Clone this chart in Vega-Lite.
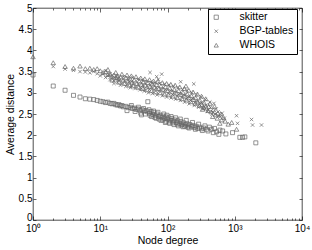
{
  "$schema": "https://vega.github.io/schema/vega-lite/v6.json",
  "width": 269,
  "height": 212,
  "autosize": {"type": "none"},
  "padding": {"left": 33, "top": 8, "right": 10, "bottom": 30},
  "config": {
    "view": {"stroke": "black", "strokeWidth": 0.7},
    "font": "Liberation Sans",
    "axis": {"domain": false, "grid": false, "labelFont": "Liberation Sans", "titleFont": "Liberation Sans", "labelColor": "black", "titleColor": "black", "tickColor": "black", "tickWidth": 0.6, "labelFontSize": 10, "titleFontSize": 10.5, "titleFontWeight": "normal"}
  },
  "datasets": {
    "pts": [
      {"src": "skitter", "deg": 1, "dist": 3.42},
      {"src": "skitter", "deg": 2, "dist": 3.16},
      {"src": "skitter", "deg": 3, "dist": 3.06},
      {"src": "skitter", "deg": 4, "dist": 2.94},
      {"src": "skitter", "deg": 5, "dist": 2.90},
      {"src": "skitter", "deg": 6, "dist": 2.86},
      {"src": "skitter", "deg": 7, "dist": 2.85},
      {"src": "skitter", "deg": 8, "dist": 2.84},
      {"src": "skitter", "deg": 9, "dist": 2.82},
      {"src": "skitter", "deg": 10, "dist": 2.80},
      {"src": "skitter", "deg": 11, "dist": 2.79},
      {"src": "skitter", "deg": 12, "dist": 2.77},
      {"src": "skitter", "deg": 13, "dist": 2.78},
      {"src": "skitter", "deg": 14, "dist": 2.75},
      {"src": "skitter", "deg": 15, "dist": 2.74},
      {"src": "skitter", "deg": 16, "dist": 2.75},
      {"src": "skitter", "deg": 17, "dist": 2.72},
      {"src": "skitter", "deg": 18, "dist": 2.71},
      {"src": "skitter", "deg": 19, "dist": 2.72},
      {"src": "skitter", "deg": 20, "dist": 2.69},
      {"src": "skitter", "deg": 21, "dist": 2.70},
      {"src": "skitter", "deg": 22, "dist": 2.67},
      {"src": "skitter", "deg": 24, "dist": 2.68},
      {"src": "skitter", "deg": 25, "dist": 2.58},
      {"src": "skitter", "deg": 26, "dist": 2.65},
      {"src": "skitter", "deg": 28, "dist": 2.66},
      {"src": "skitter", "deg": 29, "dist": 2.70},
      {"src": "skitter", "deg": 30, "dist": 2.63},
      {"src": "skitter", "deg": 32, "dist": 2.64},
      {"src": "skitter", "deg": 33, "dist": 2.56},
      {"src": "skitter", "deg": 34, "dist": 2.61},
      {"src": "skitter", "deg": 36, "dist": 2.62},
      {"src": "skitter", "deg": 37, "dist": 2.66},
      {"src": "skitter", "deg": 39, "dist": 2.59},
      {"src": "skitter", "deg": 40, "dist": 2.52},
      {"src": "skitter", "deg": 41, "dist": 2.48},
      {"src": "skitter", "deg": 42, "dist": 2.60},
      {"src": "skitter", "deg": 44, "dist": 2.63},
      {"src": "skitter", "deg": 45, "dist": 2.57},
      {"src": "skitter", "deg": 47, "dist": 2.50},
      {"src": "skitter", "deg": 48, "dist": 2.58},
      {"src": "skitter", "deg": 51, "dist": 2.79},
      {"src": "skitter", "deg": 51, "dist": 2.55},
      {"src": "skitter", "deg": 53, "dist": 2.60},
      {"src": "skitter", "deg": 54, "dist": 2.52},
      {"src": "skitter", "deg": 55, "dist": 2.47},
      {"src": "skitter", "deg": 57, "dist": 2.56},
      {"src": "skitter", "deg": 58, "dist": 2.44},
      {"src": "skitter", "deg": 60, "dist": 2.49},
      {"src": "skitter", "deg": 62, "dist": 2.57},
      {"src": "skitter", "deg": 63, "dist": 2.53},
      {"src": "skitter", "deg": 65, "dist": 2.42},
      {"src": "skitter", "deg": 66, "dist": 2.46},
      {"src": "skitter", "deg": 68, "dist": 2.40},
      {"src": "skitter", "deg": 70, "dist": 2.50},
      {"src": "skitter", "deg": 72, "dist": 2.54},
      {"src": "skitter", "deg": 74, "dist": 2.44},
      {"src": "skitter", "deg": 75, "dist": 2.38},
      {"src": "skitter", "deg": 78, "dist": 2.47},
      {"src": "skitter", "deg": 80, "dist": 2.35},
      {"src": "skitter", "deg": 82, "dist": 2.42},
      {"src": "skitter", "deg": 85, "dist": 2.36},
      {"src": "skitter", "deg": 86, "dist": 2.45},
      {"src": "skitter", "deg": 88, "dist": 2.50},
      {"src": "skitter", "deg": 90, "dist": 2.40},
      {"src": "skitter", "deg": 93, "dist": 2.30},
      {"src": "skitter", "deg": 95, "dist": 2.43},
      {"src": "skitter", "deg": 95, "dist": 2.33},
      {"src": "skitter", "deg": 98, "dist": 2.47},
      {"src": "skitter", "deg": 100, "dist": 2.38},
      {"src": "skitter", "deg": 105, "dist": 2.41},
      {"src": "skitter", "deg": 105, "dist": 2.31},
      {"src": "skitter", "deg": 108, "dist": 2.28},
      {"src": "skitter", "deg": 110, "dist": 2.35},
      {"src": "skitter", "deg": 113, "dist": 2.44},
      {"src": "skitter", "deg": 116, "dist": 2.39},
      {"src": "skitter", "deg": 120, "dist": 2.29},
      {"src": "skitter", "deg": 122, "dist": 2.33},
      {"src": "skitter", "deg": 125, "dist": 2.25},
      {"src": "skitter", "deg": 128, "dist": 2.36},
      {"src": "skitter", "deg": 132, "dist": 2.41},
      {"src": "skitter", "deg": 135, "dist": 2.30},
      {"src": "skitter", "deg": 140, "dist": 2.26},
      {"src": "skitter", "deg": 142, "dist": 2.34},
      {"src": "skitter", "deg": 145, "dist": 2.22},
      {"src": "skitter", "deg": 150, "dist": 2.28},
      {"src": "skitter", "deg": 155, "dist": 2.38},
      {"src": "skitter", "deg": 158, "dist": 2.32},
      {"src": "skitter", "deg": 160, "dist": 2.24},
      {"src": "skitter", "deg": 166, "dist": 2.26},
      {"src": "skitter", "deg": 170, "dist": 2.20},
      {"src": "skitter", "deg": 175, "dist": 2.29},
      {"src": "skitter", "deg": 180, "dist": 2.21},
      {"src": "skitter", "deg": 185, "dist": 2.24},
      {"src": "skitter", "deg": 190, "dist": 2.35},
      {"src": "skitter", "deg": 195, "dist": 2.27},
      {"src": "skitter", "deg": 200, "dist": 2.19},
      {"src": "skitter", "deg": 205, "dist": 2.22},
      {"src": "skitter", "deg": 210, "dist": 2.17},
      {"src": "skitter", "deg": 216, "dist": 2.25},
      {"src": "skitter", "deg": 228, "dist": 2.20},
      {"src": "skitter", "deg": 235, "dist": 2.30},
      {"src": "skitter", "deg": 240, "dist": 2.23},
      {"src": "skitter", "deg": 253, "dist": 2.18},
      {"src": "skitter", "deg": 260, "dist": 2.14},
      {"src": "skitter", "deg": 267, "dist": 2.21},
      {"src": "skitter", "deg": 282, "dist": 2.16},
      {"src": "skitter", "deg": 290, "dist": 2.26},
      {"src": "skitter", "deg": 300, "dist": 2.19},
      {"src": "skitter", "deg": 320, "dist": 2.15},
      {"src": "skitter", "deg": 330, "dist": 2.11},
      {"src": "skitter", "deg": 345, "dist": 2.17},
      {"src": "skitter", "deg": 360, "dist": 2.22},
      {"src": "skitter", "deg": 381, "dist": 2.14},
      {"src": "skitter", "deg": 400, "dist": 2.10},
      {"src": "skitter", "deg": 420, "dist": 2.19},
      {"src": "skitter", "deg": 452, "dist": 2.14},
      {"src": "skitter", "deg": 480, "dist": 2.06},
      {"src": "skitter", "deg": 500, "dist": 2.16},
      {"src": "skitter", "deg": 537, "dist": 2.08},
      {"src": "skitter", "deg": 580, "dist": 2.02},
      {"src": "skitter", "deg": 600, "dist": 2.12},
      {"src": "skitter", "deg": 660, "dist": 2.10},
      {"src": "skitter", "deg": 738, "dist": 2.03},
      {"src": "skitter", "deg": 927, "dist": 2.06},
      {"src": "skitter", "deg": 1190, "dist": 1.95},
      {"src": "skitter", "deg": 1306, "dist": 1.95},
      {"src": "skitter", "deg": 1413, "dist": 1.96},
      {"src": "skitter", "deg": 2057, "dist": 1.82},
      {"src": "BGP-tables", "deg": 2, "dist": 3.62},
      {"src": "BGP-tables", "deg": 3, "dist": 3.56},
      {"src": "BGP-tables", "deg": 4, "dist": 3.53},
      {"src": "BGP-tables", "deg": 5, "dist": 3.50},
      {"src": "BGP-tables", "deg": 6, "dist": 3.49},
      {"src": "BGP-tables", "deg": 7, "dist": 3.47},
      {"src": "BGP-tables", "deg": 8, "dist": 3.50},
      {"src": "BGP-tables", "deg": 9, "dist": 3.45},
      {"src": "BGP-tables", "deg": 10, "dist": 3.40},
      {"src": "BGP-tables", "deg": 11, "dist": 3.44},
      {"src": "BGP-tables", "deg": 12, "dist": 3.36},
      {"src": "BGP-tables", "deg": 12, "dist": 3.52},
      {"src": "BGP-tables", "deg": 13, "dist": 3.40},
      {"src": "BGP-tables", "deg": 14, "dist": 3.31},
      {"src": "BGP-tables", "deg": 14, "dist": 3.45},
      {"src": "BGP-tables", "deg": 15, "dist": 3.36},
      {"src": "BGP-tables", "deg": 16, "dist": 3.28},
      {"src": "BGP-tables", "deg": 16, "dist": 3.22},
      {"src": "BGP-tables", "deg": 17, "dist": 3.33},
      {"src": "BGP-tables", "deg": 18, "dist": 3.25},
      {"src": "BGP-tables", "deg": 18, "dist": 3.40},
      {"src": "BGP-tables", "deg": 19, "dist": 3.30},
      {"src": "BGP-tables", "deg": 20, "dist": 3.18},
      {"src": "BGP-tables", "deg": 21, "dist": 3.22},
      {"src": "BGP-tables", "deg": 22, "dist": 3.38},
      {"src": "BGP-tables", "deg": 23, "dist": 3.28},
      {"src": "BGP-tables", "deg": 24, "dist": 3.15},
      {"src": "BGP-tables", "deg": 25, "dist": 3.20},
      {"src": "BGP-tables", "deg": 26, "dist": 3.35},
      {"src": "BGP-tables", "deg": 27, "dist": 3.26},
      {"src": "BGP-tables", "deg": 28, "dist": 3.12},
      {"src": "BGP-tables", "deg": 29, "dist": 3.17},
      {"src": "BGP-tables", "deg": 30, "dist": 3.36},
      {"src": "BGP-tables", "deg": 31, "dist": 3.23},
      {"src": "BGP-tables", "deg": 33, "dist": 3.10},
      {"src": "BGP-tables", "deg": 34, "dist": 3.15},
      {"src": "BGP-tables", "deg": 36, "dist": 3.32},
      {"src": "BGP-tables", "deg": 37, "dist": 3.21},
      {"src": "BGP-tables", "deg": 39, "dist": 3.07},
      {"src": "BGP-tables", "deg": 40, "dist": 3.12},
      {"src": "BGP-tables", "deg": 42, "dist": 3.30},
      {"src": "BGP-tables", "deg": 43, "dist": 3.18},
      {"src": "BGP-tables", "deg": 45, "dist": 3.04},
      {"src": "BGP-tables", "deg": 46, "dist": 3.10},
      {"src": "BGP-tables", "deg": 48, "dist": 3.27},
      {"src": "BGP-tables", "deg": 50, "dist": 3.16},
      {"src": "BGP-tables", "deg": 52, "dist": 3.00},
      {"src": "BGP-tables", "deg": 54, "dist": 3.08},
      {"src": "BGP-tables", "deg": 55, "dist": 3.48},
      {"src": "BGP-tables", "deg": 56, "dist": 3.25},
      {"src": "BGP-tables", "deg": 58, "dist": 3.14},
      {"src": "BGP-tables", "deg": 60, "dist": 2.98},
      {"src": "BGP-tables", "deg": 61, "dist": 3.22},
      {"src": "BGP-tables", "deg": 63, "dist": 3.06},
      {"src": "BGP-tables", "deg": 65, "dist": 3.24},
      {"src": "BGP-tables", "deg": 68, "dist": 3.12},
      {"src": "BGP-tables", "deg": 69, "dist": 3.38},
      {"src": "BGP-tables", "deg": 70, "dist": 2.95},
      {"src": "BGP-tables", "deg": 73, "dist": 3.32},
      {"src": "BGP-tables", "deg": 74, "dist": 3.04},
      {"src": "BGP-tables", "deg": 76, "dist": 3.22},
      {"src": "BGP-tables", "deg": 80, "dist": 3.10},
      {"src": "BGP-tables", "deg": 82, "dist": 3.44},
      {"src": "BGP-tables", "deg": 84, "dist": 2.93},
      {"src": "BGP-tables", "deg": 87, "dist": 3.02},
      {"src": "BGP-tables", "deg": 90, "dist": 3.20},
      {"src": "BGP-tables", "deg": 94, "dist": 3.08},
      {"src": "BGP-tables", "deg": 97, "dist": 2.90},
      {"src": "BGP-tables", "deg": 102, "dist": 2.99},
      {"src": "BGP-tables", "deg": 105, "dist": 3.18},
      {"src": "BGP-tables", "deg": 110, "dist": 3.05},
      {"src": "BGP-tables", "deg": 113, "dist": 2.88},
      {"src": "BGP-tables", "deg": 119, "dist": 2.96},
      {"src": "BGP-tables", "deg": 122, "dist": 3.15},
      {"src": "BGP-tables", "deg": 128, "dist": 3.02},
      {"src": "BGP-tables", "deg": 132, "dist": 2.85},
      {"src": "BGP-tables", "deg": 138, "dist": 2.93},
      {"src": "BGP-tables", "deg": 143, "dist": 3.12},
      {"src": "BGP-tables", "deg": 150, "dist": 2.98},
      {"src": "BGP-tables", "deg": 155, "dist": 2.82},
      {"src": "BGP-tables", "deg": 157, "dist": 3.26},
      {"src": "BGP-tables", "deg": 162, "dist": 2.90},
      {"src": "BGP-tables", "deg": 168, "dist": 3.08},
      {"src": "BGP-tables", "deg": 175, "dist": 2.95},
      {"src": "BGP-tables", "deg": 180, "dist": 2.78},
      {"src": "BGP-tables", "deg": 189, "dist": 2.86},
      {"src": "BGP-tables", "deg": 195, "dist": 3.05},
      {"src": "BGP-tables", "deg": 204, "dist": 2.91},
      {"src": "BGP-tables", "deg": 210, "dist": 2.74},
      {"src": "BGP-tables", "deg": 220, "dist": 2.82},
      {"src": "BGP-tables", "deg": 230, "dist": 3.00},
      {"src": "BGP-tables", "deg": 237, "dist": 2.87},
      {"src": "BGP-tables", "deg": 246, "dist": 3.21},
      {"src": "BGP-tables", "deg": 250, "dist": 2.70},
      {"src": "BGP-tables", "deg": 256, "dist": 2.77},
      {"src": "BGP-tables", "deg": 270, "dist": 2.95},
      {"src": "BGP-tables", "deg": 276, "dist": 2.82},
      {"src": "BGP-tables", "deg": 290, "dist": 2.66},
      {"src": "BGP-tables", "deg": 298, "dist": 2.72},
      {"src": "BGP-tables", "deg": 315, "dist": 2.90},
      {"src": "BGP-tables", "deg": 322, "dist": 2.77},
      {"src": "BGP-tables", "deg": 340, "dist": 2.62},
      {"src": "BGP-tables", "deg": 348, "dist": 2.66},
      {"src": "BGP-tables", "deg": 365, "dist": 2.84},
      {"src": "BGP-tables", "deg": 375, "dist": 2.71},
      {"src": "BGP-tables", "deg": 395, "dist": 2.56},
      {"src": "BGP-tables", "deg": 405, "dist": 2.60},
      {"src": "BGP-tables", "deg": 425, "dist": 2.78},
      {"src": "BGP-tables", "deg": 437, "dist": 2.65},
      {"src": "BGP-tables", "deg": 460, "dist": 2.50},
      {"src": "BGP-tables", "deg": 472, "dist": 2.55},
      {"src": "BGP-tables", "deg": 490, "dist": 2.75},
      {"src": "BGP-tables", "deg": 510, "dist": 2.50},
      {"src": "BGP-tables", "deg": 530, "dist": 2.62},
      {"src": "BGP-tables", "deg": 566, "dist": 2.55},
      {"src": "BGP-tables", "deg": 580, "dist": 2.45},
      {"src": "BGP-tables", "deg": 610, "dist": 2.44},
      {"src": "BGP-tables", "deg": 650, "dist": 2.52},
      {"src": "BGP-tables", "deg": 700, "dist": 2.40},
      {"src": "BGP-tables", "deg": 1064, "dist": 2.46},
      {"src": "BGP-tables", "deg": 1100, "dist": 2.28},
      {"src": "BGP-tables", "deg": 1778, "dist": 2.37},
      {"src": "BGP-tables", "deg": 1840, "dist": 2.24},
      {"src": "BGP-tables", "deg": 2500, "dist": 2.24},
      {"src": "WHOIS", "deg": 1, "dist": 3.85},
      {"src": "WHOIS", "deg": 2, "dist": 3.71},
      {"src": "WHOIS", "deg": 3, "dist": 3.62},
      {"src": "WHOIS", "deg": 4, "dist": 3.58},
      {"src": "WHOIS", "deg": 5, "dist": 3.63},
      {"src": "WHOIS", "deg": 6, "dist": 3.57},
      {"src": "WHOIS", "deg": 7, "dist": 3.58},
      {"src": "WHOIS", "deg": 8, "dist": 3.55},
      {"src": "WHOIS", "deg": 9, "dist": 3.57},
      {"src": "WHOIS", "deg": 10, "dist": 3.52},
      {"src": "WHOIS", "deg": 11, "dist": 3.48},
      {"src": "WHOIS", "deg": 12, "dist": 3.50},
      {"src": "WHOIS", "deg": 13, "dist": 3.43},
      {"src": "WHOIS", "deg": 13, "dist": 3.55},
      {"src": "WHOIS", "deg": 14, "dist": 3.45},
      {"src": "WHOIS", "deg": 15, "dist": 3.39},
      {"src": "WHOIS", "deg": 15, "dist": 3.30},
      {"src": "WHOIS", "deg": 16, "dist": 3.42},
      {"src": "WHOIS", "deg": 17, "dist": 3.36},
      {"src": "WHOIS", "deg": 17, "dist": 3.48},
      {"src": "WHOIS", "deg": 18, "dist": 3.40},
      {"src": "WHOIS", "deg": 19, "dist": 3.33},
      {"src": "WHOIS", "deg": 19, "dist": 3.25},
      {"src": "WHOIS", "deg": 20, "dist": 3.37},
      {"src": "WHOIS", "deg": 21, "dist": 3.44},
      {"src": "WHOIS", "deg": 22, "dist": 3.30},
      {"src": "WHOIS", "deg": 23, "dist": 3.22},
      {"src": "WHOIS", "deg": 24, "dist": 3.35},
      {"src": "WHOIS", "deg": 25, "dist": 3.42},
      {"src": "WHOIS", "deg": 26, "dist": 3.28},
      {"src": "WHOIS", "deg": 27, "dist": 3.18},
      {"src": "WHOIS", "deg": 28, "dist": 3.32},
      {"src": "WHOIS", "deg": 29, "dist": 3.40},
      {"src": "WHOIS", "deg": 30, "dist": 3.25},
      {"src": "WHOIS", "deg": 31, "dist": 3.16},
      {"src": "WHOIS", "deg": 32, "dist": 3.30},
      {"src": "WHOIS", "deg": 34, "dist": 3.38},
      {"src": "WHOIS", "deg": 35, "dist": 3.22},
      {"src": "WHOIS", "deg": 37, "dist": 3.13},
      {"src": "WHOIS", "deg": 38, "dist": 3.28},
      {"src": "WHOIS", "deg": 40, "dist": 3.35},
      {"src": "WHOIS", "deg": 41, "dist": 3.20},
      {"src": "WHOIS", "deg": 43, "dist": 3.10},
      {"src": "WHOIS", "deg": 44, "dist": 3.26},
      {"src": "WHOIS", "deg": 46, "dist": 3.33},
      {"src": "WHOIS", "deg": 47, "dist": 3.18},
      {"src": "WHOIS", "deg": 50, "dist": 3.07},
      {"src": "WHOIS", "deg": 51, "dist": 3.24},
      {"src": "WHOIS", "deg": 54, "dist": 3.31},
      {"src": "WHOIS", "deg": 55, "dist": 3.15},
      {"src": "WHOIS", "deg": 58, "dist": 3.05},
      {"src": "WHOIS", "deg": 59, "dist": 3.21},
      {"src": "WHOIS", "deg": 62, "dist": 3.28},
      {"src": "WHOIS", "deg": 64, "dist": 3.13},
      {"src": "WHOIS", "deg": 67, "dist": 3.02},
      {"src": "WHOIS", "deg": 69, "dist": 3.19},
      {"src": "WHOIS", "deg": 72, "dist": 3.27},
      {"src": "WHOIS", "deg": 74, "dist": 3.10},
      {"src": "WHOIS", "deg": 78, "dist": 3.00},
      {"src": "WHOIS", "deg": 80, "dist": 3.16},
      {"src": "WHOIS", "deg": 84, "dist": 3.24},
      {"src": "WHOIS", "deg": 86, "dist": 3.08},
      {"src": "WHOIS", "deg": 90, "dist": 2.97},
      {"src": "WHOIS", "deg": 93, "dist": 3.14},
      {"src": "WHOIS", "deg": 97, "dist": 3.22},
      {"src": "WHOIS", "deg": 100, "dist": 3.05},
      {"src": "WHOIS", "deg": 104, "dist": 2.95},
      {"src": "WHOIS", "deg": 108, "dist": 3.11},
      {"src": "WHOIS", "deg": 112, "dist": 3.20},
      {"src": "WHOIS", "deg": 117, "dist": 3.02},
      {"src": "WHOIS", "deg": 120, "dist": 2.92},
      {"src": "WHOIS", "deg": 126, "dist": 3.08},
      {"src": "WHOIS", "deg": 130, "dist": 3.18},
      {"src": "WHOIS", "deg": 136, "dist": 2.99},
      {"src": "WHOIS", "deg": 140, "dist": 2.89},
      {"src": "WHOIS", "deg": 147, "dist": 3.05},
      {"src": "WHOIS", "deg": 152, "dist": 3.14},
      {"src": "WHOIS", "deg": 158, "dist": 2.96},
      {"src": "WHOIS", "deg": 165, "dist": 2.86},
      {"src": "WHOIS", "deg": 170, "dist": 3.01},
      {"src": "WHOIS", "deg": 178, "dist": 3.10},
      {"src": "WHOIS", "deg": 183, "dist": 2.92},
      {"src": "WHOIS", "deg": 188, "dist": 3.16},
      {"src": "WHOIS", "deg": 192, "dist": 2.83},
      {"src": "WHOIS", "deg": 197, "dist": 2.97},
      {"src": "WHOIS", "deg": 207, "dist": 3.06},
      {"src": "WHOIS", "deg": 212, "dist": 2.88},
      {"src": "WHOIS", "deg": 222, "dist": 2.79},
      {"src": "WHOIS", "deg": 228, "dist": 2.93},
      {"src": "WHOIS", "deg": 240, "dist": 3.02},
      {"src": "WHOIS", "deg": 245, "dist": 2.84},
      {"src": "WHOIS", "deg": 258, "dist": 2.75},
      {"src": "WHOIS", "deg": 263, "dist": 2.88},
      {"src": "WHOIS", "deg": 278, "dist": 2.97},
      {"src": "WHOIS", "deg": 283, "dist": 2.78},
      {"src": "WHOIS", "deg": 298, "dist": 2.70},
      {"src": "WHOIS", "deg": 304, "dist": 2.82},
      {"src": "WHOIS", "deg": 320, "dist": 2.92},
      {"src": "WHOIS", "deg": 327, "dist": 2.72},
      {"src": "WHOIS", "deg": 331, "dist": 2.61},
      {"src": "WHOIS", "deg": 345, "dist": 2.66},
      {"src": "WHOIS", "deg": 352, "dist": 2.76},
      {"src": "WHOIS", "deg": 370, "dist": 2.86},
      {"src": "WHOIS", "deg": 380, "dist": 2.64},
      {"src": "WHOIS", "deg": 400, "dist": 2.58},
      {"src": "WHOIS", "deg": 410, "dist": 2.68},
      {"src": "WHOIS", "deg": 430, "dist": 2.75},
      {"src": "WHOIS", "deg": 445, "dist": 2.55},
      {"src": "WHOIS", "deg": 470, "dist": 2.44},
      {"src": "WHOIS", "deg": 480, "dist": 2.60},
      {"src": "WHOIS", "deg": 500, "dist": 2.68},
      {"src": "WHOIS", "deg": 520, "dist": 2.48},
      {"src": "WHOIS", "deg": 550, "dist": 2.40},
      {"src": "WHOIS", "deg": 560, "dist": 2.52},
      {"src": "WHOIS", "deg": 600, "dist": 2.28},
      {"src": "WHOIS", "deg": 620, "dist": 2.50},
      {"src": "WHOIS", "deg": 637, "dist": 2.36},
      {"src": "WHOIS", "deg": 680, "dist": 2.42},
      {"src": "WHOIS", "deg": 720, "dist": 2.33},
      {"src": "WHOIS", "deg": 800, "dist": 2.26},
      {"src": "WHOIS", "deg": 900, "dist": 2.30},
      {"src": "WHOIS", "deg": 1064, "dist": 2.14}
    ]
  },
  "data": {"name": "pts"},
  "encoding": {
    "shape": {
      "field": "src", "type": "nominal",
      "scale": {"domain": ["skitter", "BGP-tables", "WHOIS"], "range": ["square", "M-0.8,-0.8L0.8,0.8M0.8,-0.8L-0.8,0.8", "triangle-up"]},
      "legend": {"orient": "none", "legendX": 175, "legendY": 1, "title": null, "strokeColor": "black", "fillColor": "white", "padding": 3, "cornerRadius": 0, "labelFont": "Liberation Sans", "labelFontSize": 10.5, "labelColor": "black", "symbolStrokeColor": "#666666", "symbolFillColor": "transparent", "symbolStrokeWidth": 0.7, "symbolSize": 18, "labelOffset": 18, "rowPadding": 3}
    }
  },
  "layer": [
    {
      "transform": [{"filter": "datum.src == 'skitter'"}],
      "mark": {"type": "point", "filled": false, "color": "#666666", "strokeWidth": 0.7, "size": 16, "opacity": 1},
      "encoding": {
        "x": {"field": "deg", "type": "quantitative", "scale": {"type": "log", "domain": [1, 10000], "nice": false},
          "axis": {"orient": "bottom", "title": "Node degree", "titlePadding": 0,
            "values": [1,2,3,4,5,6,7,8,9,10,20,30,40,50,60,70,80,90,100,200,300,400,500,600,700,800,900,1000,2000,3000,4000,5000,6000,7000,8000,9000,10000],
            "labelExpr": "datum.value == 1 ? '10⁰' : datum.value == 10 ? '10¹' : datum.value == 100 ? '10²' : datum.value == 1000 ? '10³' : datum.value == 10000 ? '10⁴' : ''",
            "labelFlush": false, "labelOverlap": false, "labelPadding": 7,
            "tickSize": {"condition": {"test": "datum.value == 1 || datum.value == 10 || datum.value == 100 || datum.value == 1000 || datum.value == 10000", "value": -4}, "value": -2}}},
        "y": {"field": "dist", "type": "quantitative", "scale": {"domain": [0, 5], "nice": false, "zero": false},
          "axis": {"orient": "left", "title": "Average distance", "titlePadding": 3, "values": [0,0.5,1,1.5,2,2.5,3,3.5,4,4.5,5], "format": ".1~f", "labelPadding": 4, "tickSize": -3, "labelFlush": false,
            "labelBaseline": {"condition": {"test": "datum.value == 0", "value": "alphabetic"}, "value": "middle"}}}
      }
    },
    {
      "transform": [{"filter": "datum.src == 'BGP-tables'"}],
      "mark": {"type": "point", "filled": false, "color": "#666666", "strokeWidth": 0.7, "size": 18, "opacity": 1},
      "encoding": {
        "x": {"field": "deg", "type": "quantitative",
          "axis": {"orient": "top", "title": null, "labels": false,
            "values": [1,2,3,4,5,6,7,8,9,10,20,30,40,50,60,70,80,90,100,200,300,400,500,600,700,800,900,1000,2000,3000,4000,5000,6000,7000,8000,9000,10000],
            "tickSize": {"condition": {"test": "datum.value == 1 || datum.value == 10 || datum.value == 100 || datum.value == 1000 || datum.value == 10000", "value": -4}, "value": -2}}},
        "y": {"field": "dist", "type": "quantitative",
          "axis": {"orient": "right", "title": null, "labels": false, "values": [0,0.5,1,1.5,2,2.5,3,3.5,4,4.5,5], "tickSize": -3}}
      }
    },
    {
      "transform": [{"filter": "datum.src == 'WHOIS'"}],
      "mark": {"type": "point", "filled": false, "color": "#666666", "strokeWidth": 0.7, "size": 20, "opacity": 1},
      "encoding": {
        "x": {"field": "deg", "type": "quantitative", "axis": null},
        "y": {"field": "dist", "type": "quantitative", "axis": null}
      }
    }
  ],
  "resolve": {"axis": {"x": "independent", "y": "independent"}}
}
